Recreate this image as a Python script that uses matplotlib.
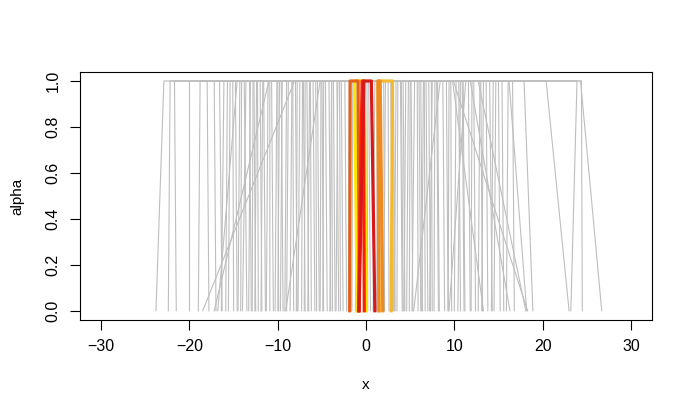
import matplotlib
matplotlib.use("Agg")
import matplotlib.pyplot as plt

plt.rcParams["font.family"] = ["Liberation Sans", "DejaVu Sans"]

# grey fuzzy numbers: left legs (support start a, core start b)
grey_a = [-23.8, -22.4, -21.5, -20.0, -18.5, -17.8, -17.2, -17.0, -16.3, -16.4,
          -15.6, -14.6, -14.5, -13.5, -13.3, -12.5, -12.6, -11.8, -11.4, -11.3,
          -10.5, -10.3, -9.4, -9.2, -8.6, -7.8, -7.7, -6.9, -6.5, -6.6,
          -5.8, -5.3, -5.2, -4.4, -4.0, -3.5, -3.1, -2.6, -2.2, -1.2,
          -19.0, -15.9, -15.0, -14.0, -13.0, -12.2, -11.9, -10.9, -10.0, -9.7,
          -9.0, -8.2, -7.3, -7.0, -6.2, -5.6, -4.9, -4.8, -4.1, -3.8,
          -3.4, -2.9, -2.0, -1.6, -12.9, -9.9, -7.9, -16.8, -14.2, -9.1]
grey_b = [-22.9, -22.2, -21.7, -20.0, -8.1, -18.0, -11.0, -17.2, -16.6, -16.1,
          -15.4, -14.8, -14.3, -13.8, -13.1, -12.7, -12.4, -12.0, -11.6, -11.1,
          -10.7, -10.1, -9.6, -9.0, -8.4, -8.0, -7.5, -7.1, -6.7, -6.4,
          -6.0, -5.5, -5.1, -4.6, -4.2, -3.7, -3.3, -2.8, -2.4, -1.0,
          -18.8, -15.7, -15.1, -13.6, -13.2, -12.3, -11.7, -10.9, -9.8, -9.5,
          -8.8, -8.3, -7.2, -6.9, -6.3, -5.7, -4.8, -5.0, -3.9, -3.9,
          -3.2, -3.0, -1.9, -1.5, -12.8, -10.0, -7.8, -14.6, -14.1, -5.2]
# right legs (core end c, support end d)
grey_c = [0.3, 1.0, 1.6, 2.2, 2.8, 3.4, 3.9, 4.5, 5.1, 5.5,
          6.0, 6.5, 7.1, 7.5, 8.1, 8.4, 9.1, 9.8, 9.9, 10.2,
          10.9, 11.3, 11.8, 12.2, 12.7, 13.3, 14.0, 14.7, 15.4, 16.1,
          16.2, 17.9, 20.4, 23.9, 24.3, 24.4, 6.8, -0.3, 12.9, 15.0,
          0.7, 1.3, 2.5, 3.1, 3.6, 4.2, 4.8, 5.8, 6.2, 7.8,
          8.7, 9.4, 10.5, 10.7, 11.6, 12.0, 13.6, 14.4, 2.0, 4.0,
          5.0, 6.6, 8.0, 9.6, 11.0, 13.0, 7.4, 3.0, 0.1, 16.6]
grey_d = [0.5, 0.8, 1.8, 2.0, 3.0, 3.2, 4.1, 4.3, 5.3, 5.2,
          6.2, 6.3, 7.3, 7.2, 8.3, 5.4, 9.3, 13.3, 18.3, 10.0,
          11.1, 9.4, 16.3, 12.4, 18.1, 13.1, 14.3, 14.5, 15.6, 15.9,
          18.2, 18.9, 23.0, 23.2, 26.7, 24.5, 7.0, -0.1, 12.7, 15.2,
          0.9, 1.2, 2.6, 3.3, 3.5, 4.4, 4.6, 5.9, 6.4, 7.7,
          8.9, 9.3, 10.7, 10.4, 11.8, 11.9, 13.8, 14.2, 2.1, 4.2,
          4.9, 6.7, 8.2, 9.7, 11.2, 13.2, 7.5, 3.1, 0.2, 16.8]

# highlighted fuzzy numbers
hl_a = [-1.0, 1.5, 1.45, -1.85, -0.85, -0.8]
hl_b = [-1.3, 1.35, 1.35, -1.8, -0.45, -0.25]
hl_c = [-0.2, 3.0, 1.6, -0.9, -0.3, 0.6]
hl_d = [0.0, 2.85, 1.9, -0.75, -0.2, 1.0]
hl_colors = ["#FFE500", "#F3BA2F", "#EE8A22", "#E3601B", "#FF2000", "#D7191C"]

alpha = [0, 1, 1, 0]

fig = plt.figure(figsize=(6.9, 4.15), dpi=100)
ax = fig.add_axes([0.116, 0.229, 0.829, 0.598])

for a, b, c, d in zip(grey_a, grey_b, grey_c, grey_d):
    ax.plot([a, b, c, d], alpha, color="#BEBEBE", lw=0.8)

for a, b, c, d, col in zip(hl_a, hl_b, hl_c, hl_d, hl_colors):
    ax.plot([a, b, c, d], alpha, color=col, lw=2.3)

ax.set_xlim(-32.4, 32.4)
ax.set_ylim(-0.04, 1.04)
ax.set_xticks([-30, -20, -10, 0, 10, 20, 30])
ax.set_yticks([0.0, 0.2, 0.4, 0.6, 0.8, 1.0])
ax.set_yticklabels(["0.0", "0.2", "0.4", "0.6", "0.8", "1.0"], rotation=90, va="center")
ax.tick_params(length=7, width=0.8, labelsize=11.5, pad=7)
for s in ax.spines.values():
    s.set_linewidth(0.8)
ax.set_xlabel("x", fontsize=11, labelpad=17)
ax.set_ylabel("alpha", fontsize=11, labelpad=15)

fig.savefig("out.png", dpi=100)
